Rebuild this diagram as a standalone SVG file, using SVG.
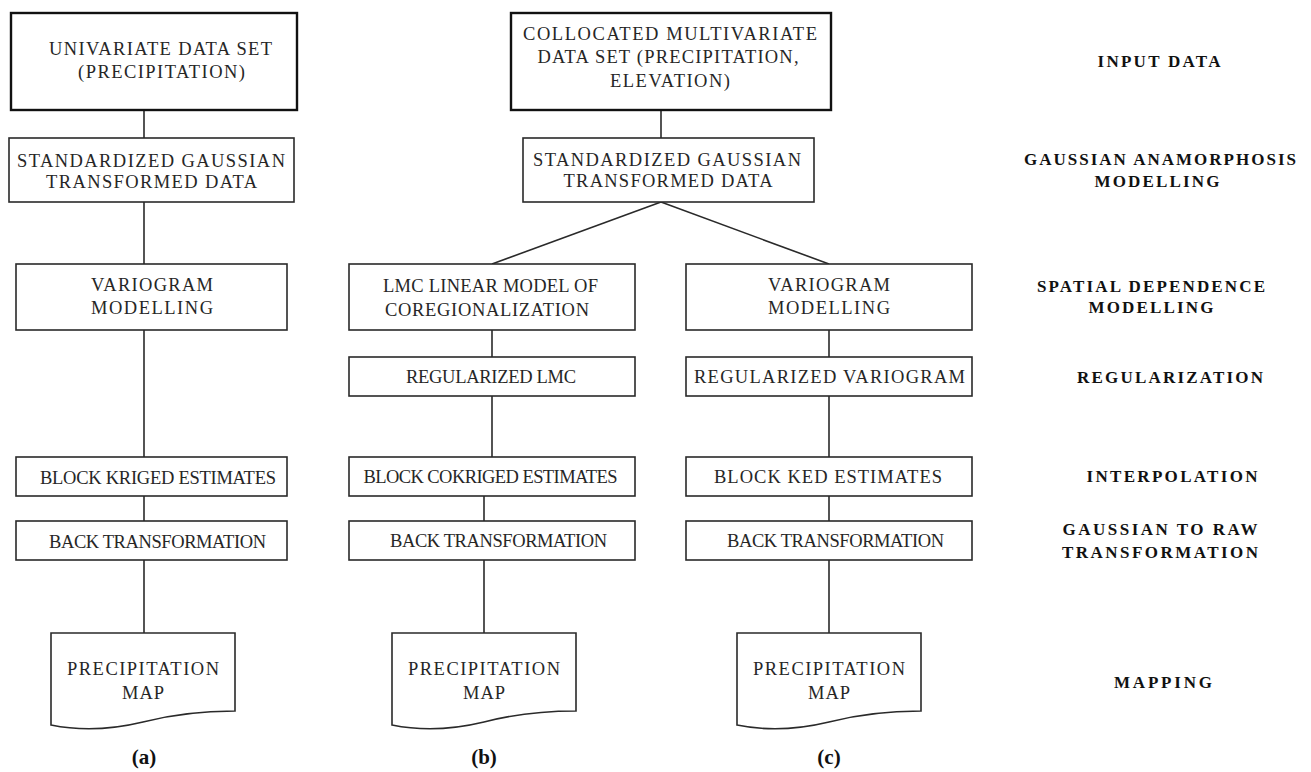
<svg xmlns="http://www.w3.org/2000/svg" width="1311" height="772" viewBox="0 0 1311 772">
<style>
.box{fill:#fff;stroke:#2a2a2a;stroke-width:1.6}
.thick{stroke-width:2.4;stroke:#111}
.doc{fill:#fff;stroke:#2a2a2a;stroke-width:1.6}
.t{font-family:"Liberation Serif","Times New Roman",serif;font-size:18.5px;fill:#262626;text-anchor:middle}
.lab{font-family:"Liberation Serif","Times New Roman",serif;font-size:17px;font-weight:bold;fill:#111;text-anchor:middle}
.cap{font-family:"Liberation Serif","Times New Roman",serif;font-size:21px;font-weight:bold;fill:#111;text-anchor:middle}
.con{stroke:#2a2a2a;stroke-width:1.6;fill:none}
</style>
<rect width="1311" height="772" fill="#fff"/>
<g id="connectors">
<line class="con" x1="144" y1="110" x2="144" y2="138"/>
<line class="con" x1="144" y1="202" x2="144" y2="264"/>
<line class="con" x1="144" y1="330" x2="144" y2="457"/>
<line class="con" x1="144" y1="496" x2="144" y2="521"/>
<line class="con" x1="144" y1="560" x2="144" y2="633"/>
<line class="con" x1="661" y1="110" x2="661" y2="138"/>
<line class="con" x1="661" y1="202" x2="492" y2="264"/>
<line class="con" x1="661" y1="202" x2="829" y2="264"/>
<line class="con" x1="492" y1="330" x2="492" y2="357"/>
<line class="con" x1="492" y1="396" x2="492" y2="457"/>
<line class="con" x1="484" y1="496" x2="484" y2="521"/>
<line class="con" x1="484" y1="560" x2="484" y2="633"/>
<line class="con" x1="829" y1="330" x2="829" y2="357"/>
<line class="con" x1="829" y1="396" x2="829" y2="457"/>
<line class="con" x1="829" y1="496" x2="829" y2="521"/>
<line class="con" x1="829" y1="560" x2="829" y2="633"/>
</g>
<g id="a-input"><rect class="box thick" x="11" y="13" width="286" height="97"/>
<text class="t" x="160.5" y="55" textLength="223">UNIVARIATE DATA SET</text>
<text class="t" x="161.5" y="78" textLength="167">(PRECIPITATION)</text></g>
<g id="a-gauss"><rect class="box" x="9" y="138" width="285" height="64"/>
<text class="t" x="151" y="167" textLength="268">STANDARDIZED GAUSSIAN</text>
<text class="t" x="151.5" y="188" textLength="211">TRANSFORMED DATA</text></g>
<g id="a-vario"><rect class="box" x="16" y="264" width="271" height="66"/>
<text class="t" x="152" y="291" textLength="122">VARIOGRAM</text>
<text class="t" x="152" y="314" textLength="122">MODELLING</text></g>
<g id="a-krig"><rect class="box" x="16" y="457" width="271" height="39"/>
<text class="t" x="158" y="484" textLength="236">BLOCK KRIGED ESTIMATES</text></g>
<g id="a-back"><rect class="box" x="16" y="521" width="271" height="39"/>
<text class="t" x="157.5" y="548" textLength="217">BACK TRANSFORMATION</text></g>
<g id="a-map"><path class="doc" d="M51,633 H235 V711 C200,711 170,715 143,722 C110,730 80,731 51,725 Z"/>
<text class="t" x="143" y="675" textLength="152">PRECIPITATION</text>
<text class="t" x="143" y="699" textLength="42">MAP</text></g>

<g id="b-input"><rect class="box thick" x="511" y="13" width="320" height="97"/>
<text class="t" x="670" y="40" textLength="294">COLLOCATED MULTIVARIATE</text>
<text class="t" x="668" y="63" textLength="261">DATA SET (PRECIPITATION,</text>
<text class="t" x="670" y="87" textLength="120">ELEVATION)</text></g>
<g id="b-gauss"><rect class="box" x="523" y="138" width="291" height="64"/>
<text class="t" x="667" y="166" textLength="268">STANDARDIZED GAUSSIAN</text>
<text class="t" x="668" y="187" textLength="209">TRANSFORMED DATA</text></g>
<g id="b-lmc"><rect class="box" x="349" y="264" width="286" height="66"/>
<text class="t" x="490.5" y="292" textLength="215">LMC LINEAR MODEL OF</text>
<text class="t" x="487" y="316" textLength="204">COREGIONALIZATION</text></g>
<g id="b-reg"><rect class="box" x="349" y="357" width="286" height="39"/>
<text class="t" x="491" y="383" textLength="170">REGULARIZED LMC</text></g>
<g id="b-cokrig"><rect class="box" x="349" y="457" width="286" height="39"/>
<text class="t" x="490.5" y="483" textLength="254">BLOCK COKRIGED ESTIMATES</text></g>
<g id="b-back"><rect class="box" x="349" y="521" width="286" height="39"/>
<text class="t" x="498.5" y="547" textLength="217">BACK TRANSFORMATION</text></g>
<g id="b-map"><path class="doc" d="M392,633 H576 V711 C541,711 511,715 484,722 C451,730 421,731 392,725 Z"/>
<text class="t" x="484" y="675" textLength="152">PRECIPITATION</text>
<text class="t" x="484" y="699" textLength="42">MAP</text></g>

<g id="c-vario"><rect class="box" x="686" y="264" width="286" height="66"/>
<text class="t" x="829" y="291" textLength="122">VARIOGRAM</text>
<text class="t" x="829" y="314" textLength="122">MODELLING</text></g>
<g id="c-reg"><rect class="box" x="686" y="357" width="286" height="39"/>
<text class="t" x="829.5" y="383" textLength="271">REGULARIZED VARIOGRAM</text></g>
<g id="c-ked"><rect class="box" x="686" y="457" width="286" height="39"/>
<text class="t" x="828" y="483" textLength="228">BLOCK KED ESTIMATES</text></g>
<g id="c-back"><rect class="box" x="686" y="521" width="286" height="39"/>
<text class="t" x="835.5" y="547" textLength="217">BACK TRANSFORMATION</text></g>
<g id="c-map"><path class="doc" d="M737,633 H921 V711 C886,711 856,715 829,722 C796,730 766,731 737,725 Z"/>
<text class="t" x="829" y="675" textLength="152">PRECIPITATION</text>
<text class="t" x="829" y="699" textLength="42">MAP</text></g>

<g id="stage-labels">
<text class="lab" x="1159" y="67" textLength="123">INPUT DATA</text>
<text class="lab" x="1160" y="165" textLength="272">GAUSSIAN ANAMORPHOSIS</text>
<text class="lab" x="1157" y="187" textLength="125">MODELLING</text>
<text class="lab" x="1151" y="292" textLength="228">SPATIAL DEPENDENCE</text>
<text class="lab" x="1151" y="313" textLength="125">MODELLING</text>
<text class="lab" x="1170" y="383" textLength="186">REGULARIZATION</text>
<text class="lab" x="1172" y="482" textLength="171">INTERPOLATION</text>
<text class="lab" x="1160" y="535" textLength="195">GAUSSIAN TO RAW</text>
<text class="lab" x="1160" y="558" textLength="196">TRANSFORMATION</text>
<text class="lab" x="1163" y="688" textLength="98">MAPPING</text>
</g>
<g id="captions">
<text class="cap" x="144" y="764">(a)</text>
<text class="cap" x="484" y="764">(b)</text>
<text class="cap" x="829" y="764">(c)</text>
</g>
</svg>
